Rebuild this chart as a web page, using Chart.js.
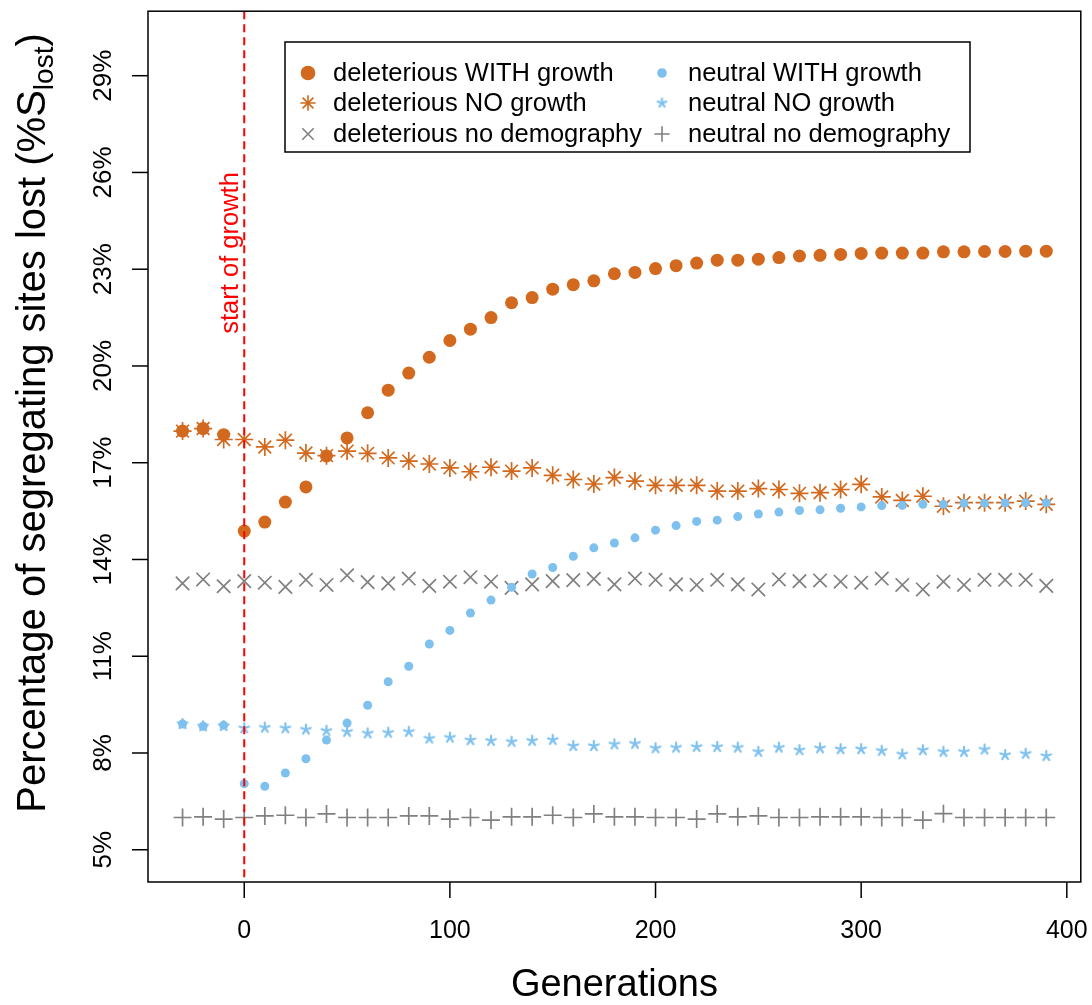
<!DOCTYPE html>
<html>
<head>
<meta charset="utf-8">
<script src="https://cdn.jsdelivr.net/npm/chart.js@4.4.1/dist/chart.umd.min.js"></script>
<style>
  body { margin: 0; background: #fff; }
  #wrap { width: 1092px; height: 1005px; }
</style>
</head>
<body>
<div id="wrap"><canvas id="myChart" width="1092" height="1005"></canvas></div>
<script>
const generations = [-30, -20, -10, 0, 10, 20, 30, 40, 50, 60, 70, 80, 90, 100, 110, 120, 130, 140, 150, 160, 170,
  180, 190, 200, 210, 220, 230, 240, 250, 260, 270, 280, 290, 300, 310, 320, 330, 340, 350, 360, 370, 380, 390];

const delWithGrowth = [17.98, 18.06, 17.87, 14.88, 15.16, 15.78, 16.25, 17.21, 17.77, 18.55, 19.25, 19.78, 20.27, 20.79, 21.14, 21.50, 21.96, 22.12, 22.38, 22.52, 22.64,
  22.86, 22.90, 23.02, 23.11, 23.19, 23.28, 23.28, 23.31, 23.36, 23.41, 23.43, 23.46, 23.49, 23.50, 23.50, 23.50, 23.54, 23.54, 23.55, 23.55, 23.56, 23.56];
const delNoGrowth = [17.98, 18.06, 17.72, 17.72, 17.49, 17.70, 17.30, 17.22, 17.36, 17.29, 17.15, 17.05, 16.96, 16.84, 16.72, 16.86, 16.74, 16.84, 16.61, 16.48, 16.34,
  16.54, 16.43, 16.30, 16.30, 16.30, 16.12, 16.12, 16.20, 16.17, 16.05, 16.07, 16.17, 16.33, 15.94, 15.83, 15.96, 15.65, 15.76, 15.76, 15.76, 15.81, 15.71];
const delNoDemography = [13.26, 13.38, 13.17, 13.33, 13.28, 13.15, 13.37, 13.21, 13.51, 13.30, 13.26, 13.41, 13.18, 13.31, 13.45, 13.31, 13.12, 13.23, 13.33, 13.36, 13.40,
  13.23, 13.41, 13.37, 13.23, 13.21, 13.37, 13.23, 13.07, 13.38, 13.33, 13.35, 13.31, 13.28, 13.41, 13.21, 13.07, 13.31, 13.21, 13.37, 13.37, 13.37, 13.18];
const neuWithGrowth = [8.90, 8.83, 8.86, 7.05, 6.97, 7.38, 7.82, 8.40, 8.93, 9.48, 10.21, 10.69, 11.38, 11.80, 12.34, 12.74, 13.14, 13.55, 13.75, 14.10, 14.36,
  14.51, 14.67, 14.91, 15.05, 15.18, 15.22, 15.33, 15.41, 15.47, 15.52, 15.54, 15.59, 15.63, 15.67, 15.68, 15.71, 15.71, 15.74, 15.74, 15.75, 15.76, 15.76];
const neuNoGrowth = [8.90, 8.83, 8.84, 8.77, 8.79, 8.77, 8.73, 8.69, 8.66, 8.61, 8.63, 8.66, 8.45, 8.48, 8.40, 8.38, 8.35, 8.38, 8.41, 8.22, 8.22,
  8.27, 8.29, 8.15, 8.17, 8.19, 8.19, 8.17, 8.04, 8.17, 8.09, 8.15, 8.12, 8.12, 8.07, 7.96, 8.09, 8.04, 8.04, 8.11, 7.94, 7.98, 7.91];
const neuNoDemography = [6.00, 6.02, 5.95, 6.00, 6.05, 6.07, 6.00, 6.11, 6.00, 6.00, 6.00, 6.05, 6.05, 5.95, 6.00, 5.92, 6.02, 6.02, 6.07, 6.00, 6.11,
  6.02, 6.02, 6.00, 6.00, 5.95, 6.11, 6.02, 6.05, 6.00, 6.00, 6.02, 6.02, 6.02, 6.00, 6.00, 5.92, 6.12, 6.00, 6.00, 6.00, 6.00, 6.00];

const xTicks = [0, 100, 200, 300, 400];
const yTicks = [5, 8, 11, 14, 17, 20, 23, 26, 29];
const growthStart = 0;

const ORANGE = "#D2691E";
const BLUE = "#7EC0EE";
const GREY = "#808080";
const FONT = "'Liberation Sans', Arial, Helvetica, sans-serif";

// small 5-armed asterisk like R's "*" character
function makeAsterisk(color, r) {
  const c = document.createElement("canvas");
  const s = Math.ceil(r * 2 + 4);
  c.width = s;
  c.height = s;
  const g = c.getContext("2d");
  g.strokeStyle = color;
  g.lineWidth = 2.2;
  g.lineCap = "round";
  for (let k = 0; k < 5; k++) {
    const a = -Math.PI / 2 + k * 2 * Math.PI / 5;
    g.beginPath();
    g.moveTo(s / 2, s / 2);
    g.lineTo(s / 2 + Math.cos(a) * r, s / 2 + Math.sin(a) * r);
    g.stroke();
  }
  return c;
}
const blueStar = makeAsterisk(BLUE, 5);
const blueStarLegend = makeAsterisk(BLUE, 4.5);

const pts = (vals) => generations.map((g, i) => ({ x: g, y: vals[i] }));

const series = [
  { label: "deleterious WITH growth", data: delWithGrowth, style: "circle", color: ORANGE, radius: 6.5, fill: true, order: 1 },
  { label: "deleterious NO growth", data: delNoGrowth, style: "star", color: ORANGE, radius: 9, fill: false, order: 2 },
  { label: "deleterious no demography", data: delNoDemography, style: "crossRot", color: GREY, radius: 9.5, fill: false, order: 4 },
  { label: "neutral WITH growth", data: neuWithGrowth, style: "circle", color: BLUE, radius: 4.5, fill: true, order: 0 },
  { label: "neutral NO growth", data: neuNoGrowth, style: blueStar, color: BLUE, radius: 5, fill: false, order: 3 },
  { label: "neutral no demography", data: neuNoDemography, style: "cross", color: GREY, radius: 9, fill: false, order: 5 },
];

const extras = {
  id: "extras",
  afterDatasetsDraw(chart) {
    const { ctx, chartArea: a, scales } = chart;
    const x = scales.x, y = scales.y;
    // start of growth line
    const gx = x.getPixelForValue(growthStart);
    ctx.save();
    ctx.strokeStyle = "#FF0000";
    ctx.lineWidth = 2;
    ctx.setLineDash([8, 5]);
    ctx.beginPath();
    ctx.moveTo(gx, a.top);
    ctx.lineTo(gx, a.bottom);
    ctx.stroke();
    ctx.setLineDash([]);
    ctx.translate(gx - 6, y.getPixelForValue(21));
    ctx.rotate(-Math.PI / 2);
    ctx.fillStyle = "#FF0000";
    ctx.font = "25.5px " + FONT;
    ctx.textAlign = "left";
    ctx.textBaseline = "alphabetic";
    ctx.fillText("start of growth", 0, 0);
    ctx.restore();
  },
  afterDraw(chart) {
    const { ctx, chartArea: a, scales } = chart;
    const x = scales.x, y = scales.y;
    ctx.save();
    ctx.strokeStyle = "#000";
    ctx.lineWidth = 1.5;
    ctx.strokeRect(a.left, a.top, a.right - a.left, a.bottom - a.top);

    ctx.fillStyle = "#000";
    ctx.font = "25px " + FONT;
    // x axis
    ctx.textAlign = "center";
    ctx.textBaseline = "alphabetic";
    xTicks.forEach((v) => {
      const px = x.getPixelForValue(v);
      ctx.beginPath();
      ctx.moveTo(px, a.bottom);
      ctx.lineTo(px, a.bottom + 16);
      ctx.stroke();
      ctx.fillText(String(v), px, 938);
    });
    // y axis
    ctx.font = "26px " + FONT;
    yTicks.forEach((v) => {
      const py = y.getPixelForValue(v);
      ctx.beginPath();
      ctx.moveTo(a.left, py);
      ctx.lineTo(a.left - 16, py);
      ctx.stroke();
      ctx.save();
      ctx.translate(111, py);
      ctx.rotate(-Math.PI / 2);
      ctx.fillText(v + "%", 0, 0);
      ctx.restore();
    });

    // axis titles
    ctx.font = "38px " + FONT;
    ctx.fillText("Generations", (a.left + a.right) / 2, 996);

    const main = "Percentage of segregating sites lost (%S";
    const sub = "lost";
    const close = ")";
    ctx.font = "40px " + FONT;
    const w1 = ctx.measureText(main).width;
    const w3 = ctx.measureText(close).width;
    ctx.font = "28px " + FONT;
    const w2 = ctx.measureText(sub).width;
    const total = w1 + w2 + w3;
    ctx.save();
    ctx.translate(45, 423);
    ctx.rotate(-Math.PI / 2);
    ctx.textAlign = "left";
    let cx = -total / 2;
    ctx.font = "40px " + FONT;
    ctx.fillText(main, cx, 0);
    cx += w1;
    ctx.font = "28px " + FONT;
    ctx.fillText(sub, cx, 8);
    cx += w2;
    ctx.font = "40px " + FONT;
    ctx.fillText(close, cx, 0);
    ctx.restore();

    // legend
    ctx.lineWidth = 1.5;
    ctx.strokeRect(285, 42, 685, 110);
    ctx.font = "25.5px " + FONT;
    ctx.textAlign = "left";
    ctx.textBaseline = "middle";
    const rows = [73, 103, 134];
    const cols = [{ sym: 308, txt: 333 }, { sym: 662, txt: 688 }];
    series.forEach((s, i) => {
      const col = cols[Math.floor(i / 3)];
      const ry = rows[i % 3];
      ctx.fillStyle = s.color;
      ctx.strokeStyle = s.color;
      ctx.lineWidth = 1.6;
      const st = s.style === blueStar ? blueStarLegend : s.style;
      Chart.helpers.drawPoint(ctx, {
        pointStyle: st,
        radius: s.style === "circle" ? (s.color === ORANGE ? 6.5 : 4) : s.radius * 0.85,
        rotation: 0,
        borderWidth: 1.6,
      }, col.sym, ry);
      if (s.style === "circle") ctx.fill();
      ctx.fillStyle = "#000";
      ctx.fillText(s.label, col.txt, ry + 1);
    });
    ctx.restore();
  },
};

const ctx = document.getElementById("myChart").getContext("2d");

const myChart = new Chart(ctx, {
  type: "scatter",
  data: {
    datasets: series.map((s) => ({
      label: s.label,
      data: pts(s.data),
      pointStyle: s.style,
      pointRadius: s.radius,
      pointHoverRadius: s.radius,
      backgroundColor: s.fill ? s.color : "rgba(0,0,0,0)",
      borderColor: s.color,
      borderWidth: s.fill ? 0 : 1.7,
      order: s.order,
    })),
  },
  options: {
    responsive: false,
    animation: false,
    events: [],
    layout: { padding: { top: 9, right: 10, left: 0, bottom: 0 } },
    plugins: { legend: { display: false }, tooltip: { enabled: false } },
    scales: {
      x: {
        type: "linear",
        min: -46.8,
        max: 406.8,
        grid: { display: false },
        border: { display: false },
        ticks: { display: false },
        afterBuildTicks: (s) => { s.ticks = xTicks.map((v) => ({ value: v })); },
        afterFit: (s) => { s.height = 123; },
      },
      y: {
        type: "linear",
        min: 4,
        max: 31,
        grid: { display: false },
        border: { display: false },
        ticks: { display: false },
        afterBuildTicks: (s) => { s.ticks = yTicks.map((v) => ({ value: v })); },
        afterFit: (s) => { s.width = 148; },
      },
    },
  },
  plugins: [extras],
});
</script>
</body>
</html>
